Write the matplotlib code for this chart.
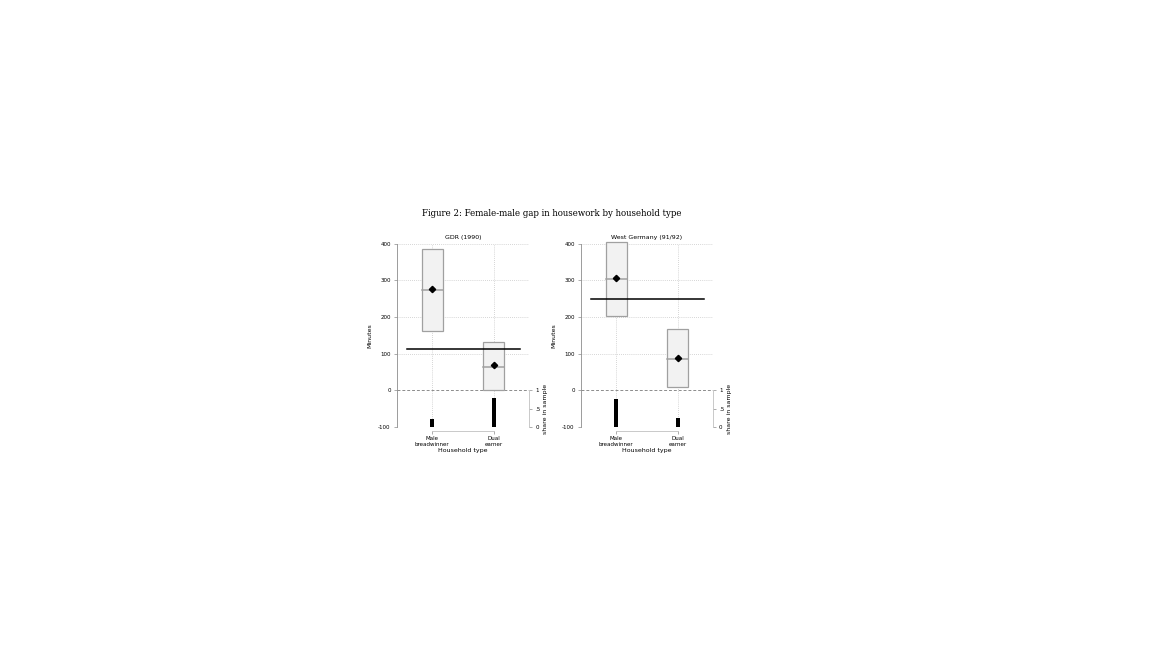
import matplotlib.pyplot as plt
import numpy as np

# household types (x categories)
categories = ["Male\nbreadwinner", "Dual\nearner"]
panel_titles = ["GDR (1990)", "West Germany (91/92)"]

# female-male gap in housework, minutes: box percentiles and mean
q_low = [[162, 2], [204, 9]]
q_med = [[273, 65], [303, 85]]
q_high = [[386, 132], [405, 168]]
means = [[275, 70], [305, 88]]
# overall average gap (horizontal line)
overall_gap = [113, 250]
# share of household type in sample
share = [[0.21, 0.79], [0.76, 0.25]]

fig = plt.figure(figsize=(11.52, 6.48), dpi=100)
fig.text(0.479, 0.671, "Figure 2: Female-male gap in housework by household type",
         ha="center", va="center", fontsize=6.2, family="DejaVu Serif")

grey = "#8c8c8c"
positions = [0.3446, 0.5043]
x = np.arange(1, len(categories) + 1)

for p in range(2):
    ax = fig.add_axes([positions[p], 0.341, 0.1145, 0.283])
    ax.set_xlim(0.43, 2.57)
    ax.set_ylim(-100, 400)

    # grid
    for yv in [100, 200, 300, 400]:
        ax.axhline(yv, color="#c8c8c8", lw=0.6, ls=(0, (1, 1.5)), zorder=0)
    for xv in x:
        ax.axvline(xv, color="#c8c8c8", lw=0.6, ls=(0, (1, 1.5)), zorder=0)
    ax.axhline(0, color=grey, lw=0.7, ls=(0, (3, 2)), zorder=1)

    # boxes
    for i, xv in enumerate(x):
        lo, md, hi = q_low[p][i], q_med[p][i], q_high[p][i]
        rect = plt.Rectangle((xv - 0.17, lo), 0.34, hi - lo, facecolor="#f2f2f2",
                             edgecolor="#a0a0a0", lw=0.9, zorder=2, clip_on=False)
        ax.add_patch(rect)
        ax.plot([xv - 0.17, xv + 0.17], [md, md], color="#a0a0a0", lw=1.1, zorder=3)
        ax.plot(xv, means[p][i], marker="D", color="black", ms=3.2, zorder=4)

    ax.plot([0.6, 2.42], [overall_gap[p]] * 2, color="black", lw=1.1, zorder=5)

    ax.set_yticks([-100, 0, 100, 200, 300, 400])
    ax.set_yticklabels(["-100", "0", "100", "200", "300", "400"])
    ax.set_xticks(x)
    ax.set_xticklabels(categories, linespacing=0.9)
    ax.tick_params(axis="y", labelsize=4, length=2.5, width=0.5, color=grey, pad=2)
    ax.tick_params(axis="x", labelsize=4, length=2, width=0.5, color=grey, pad=1.5)
    for s in ["top", "right"]:
        ax.spines[s].set_visible(False)
    ax.spines["left"].set_color(grey)
    ax.spines["left"].set_linewidth(0.6)
    ax.spines["left"].set_bounds(-100, 400)
    ax.spines["bottom"].set_color("#c0c0c0")
    ax.spines["bottom"].set_linewidth(0.6)
    ax.spines["bottom"].set_bounds(1, 2)
    ax.spines["bottom"].set_position(("outward", 3))
    ax.set_ylabel("Minutes", fontsize=4.5, labelpad=4)
    ax.set_xlabel("Household type", fontsize=4.5, labelpad=1)
    ax.set_title(panel_titles[p], fontsize=4.5, pad=3)

    # share in sample, on a second axis
    ax2 = ax.twinx()
    ax2.set_ylim(0, 5)
    ax2.bar(x, share[p], width=0.07, color="black", zorder=3)
    ax2.set_yticks([0, 0.5, 1])
    ax2.set_yticklabels(["0", ".5", "1"])
    ax2.tick_params(axis="y", labelsize=4, length=2.5, width=0.5, color=grey, pad=2)
    for s in ["top", "left", "bottom"]:
        ax2.spines[s].set_visible(False)
    ax2.spines["right"].set_color("#c0c0c0")
    ax2.spines["right"].set_linewidth(0.6)
    ax2.spines["right"].set_bounds(0, 1)
    ax2.set_ylabel("share in sample", fontsize=4.5, labelpad=2, y=0.1)

fig.savefig("out.png", dpi=100)
